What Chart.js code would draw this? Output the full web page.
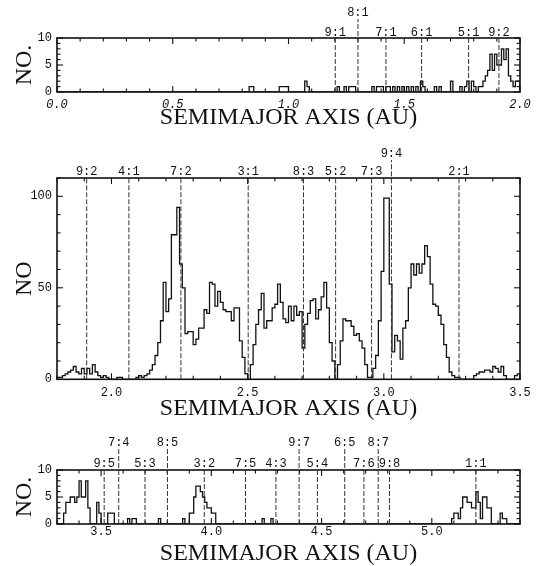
<!DOCTYPE html>
<html><head><meta charset="utf-8">
<script src="https://cdn.jsdelivr.net/npm/chart.js@4.4.1/dist/chart.umd.min.js"></script>
<style>
html,body{margin:0;padding:0;background:#fff;overflow:hidden;width:537px;height:566px;}
canvas{position:absolute;left:0;}
</style></head><body>
<canvas id="c1" width="537" height="135" style="top:0px"></canvas>
<canvas id="c2" width="537" height="292" style="top:135px"></canvas>
<canvas id="c3" width="537" height="150" style="top:427px"></canvas>
<script>
// ---------- DATA ----------
const binWidth = 0.01;
const axisTitle = 'SEMIMAJOR AXIS (AU)';

// top panel (0.0 - 2.0 AU), bins start at 0.80
const topStart = 0.80;
const topCounts = [
  0,0,0,1,1,0,0,0,0,0,
  0,0,0,0,0,0,1,1,1,1,
  0,0,0,0,0,0,0,2,1,0,
  0,0,0,0,0,0,0,0,0,0,
  0,1,0,0,1,0,1,1,1,0,
  0,0,0,0,0,0,1,0,1,1,
  1,0,1,1,0,1,0,1,0,1,
  0,1,0,1,0,1,0,2,1,0,
  0,0,0,1,0,1,0,0,0,0,
  2,0,0,0,1,0,1,2,0,2,
  1,0,1,1,2,3,4,7,4,7,
  5,5,8,6,8,3,2,1,2,2
];
const topXLabels = ['0.0','0.5','1.0','1.5','2.0'];
const topYLabels = ['0','5','10'];
const topResNames = ['9:1','8:1','7:1','6:1','5:1','9:2'];
const topResPos = [1.202,1.300,1.421,1.575,1.778,1.909];
const topResRaised = [0,1,0,0,0,0];

// middle panel (1.8 - 3.5 AU)
const midStart = 1.80;
const midCounts = [
  1,1,2,3,4,5,7,4,3,6,
  3,6,3,8,4,2,1,2,1,0,
  0,0,1,1,0,0,0,0,0,1,
  2,1,2,3,5,8,13,20,32,53,
  37,44,79,79,94,63,50,25,26,26,
  19,22,28,28,38,36,53,52,40,48,
  42,38,37,37,32,39,39,21,12,3,
  0,8,19,30,38,47,28,32,32,39,
  41,52,42,33,31,40,32,40,35,37,
  17,30,36,43,44,33,38,45,53,39,
  20,10,0,8,21,33,32,32,29,24,
  25,21,17,8,1,1,6,13,32,59,
  99,99,52,15,24,21,11,28,32,50,
  63,57,63,58,63,73,67,52,41,40,
  35,30,19,12,4,2,1,1,0,0,
  0,0,0,2,3,4,4,5,5,4,
  7,6,4,7,2,0,0,0,2,3
];
const midXLabels = ['2.0','2.5','3.0','3.5'];
const midYLabels = ['0','50','100'];
const midResNames = ['9:2','4:1','7:2','3:1','8:3','5:2','7:3','9:4','2:1'];
const midResPos = [1.909,2.064,2.255,2.502,2.705,2.823,2.955,3.028,3.276];
const midResRaised = [0,0,0,0,0,0,0,1,0];

// bottom panel (3.3 - 5.4 AU)
const lowStart = 3.30;
const lowCounts = [
  0,0,0,2,4,4,5,5,4,5,
  8,5,5,8,3,0,0,0,4,2,
  0,0,0,2,2,2,0,0,0,0,
  0,0,1,0,1,1,0,0,0,0,
  0,0,0,0,0,0,1,0,0,0,
  0,0,0,0,0,0,0,1,0,0,
  2,2,5,7,7,6,5,4,3,3,
  2,2,0,0,0,0,0,0,0,0,
  0,0,0,0,0,0,0,0,0,0,
  0,0,0,1,0,0,0,1,0,0,
  0,0,0,0,0,0,0,0,0,0,
  0,0,0,0,0,0,0,0,0,0,
  0,0,0,0,0,0,0,0,0,0,
  0,0,0,0,0,0,0,0,0,0,
  0,0,0,0,0,0,0,0,0,0,
  0,0,0,0,0,0,0,0,0,0,
  0,0,0,0,0,0,0,0,0,0,
  0,0,0,0,0,0,0,0,0,1,
  2,2,1,3,5,5,4,4,3,3,
  6,4,1,5,5,3,3,0,0,0,
  0,2,1,1,0,0,0,0,0,0
];
const lowXLabels = ['3.5','4.0','4.5','5.0'];
const lowYLabels = ['0','5','10'];
const lowResNames = ['9:5','7:4','5:3','8:5','3:2','7:5','4:3','9:7','5:4','6:5','7:6','8:7','9:8','1:1'];
const lowResPos = [3.514,3.580,3.699,3.801,3.968,4.155,4.293,4.398,4.481,4.605,4.692,4.757,4.808,5.200];
const lowResRaised = [0,1,0,1,0,0,0,1,0,1,0,1,0,0];

// ---------- RENDERING ----------
const INK = '#111';
const monoFont = 'Liberation Mono';
const serifFont = 'Liberation Serif';

function labelFor(labels){
  return v => { const l = labels.find(s => Math.abs(parseFloat(s) - v) < 1e-6); return l === undefined ? '' : l; };
}

function framePlugin(res){
  return {
    id: 'frameTicks',
    afterDatasetsDraw(chart){
      const {ctx, chartArea: a, scales: {x, y}} = chart;
      ctx.save();
      ctx.strokeStyle = INK;
      ctx.lineWidth = 1.1;
      const seg = (x1,y1,x2,y2) => { ctx.beginPath(); ctx.moveTo(x1,y1); ctx.lineTo(x2,y2); ctx.stroke(); };
      x.ticks.forEach(t => {
        const px = x.getPixelForValue(t.value);
        const len = t.label !== '' ? 6 : 3.5;
        seg(px, a.bottom, px, a.bottom - len);
        seg(px, a.top, px, a.top + len);
      });
      y.ticks.forEach(t => {
        const py = y.getPixelForValue(t.value);
        const len = t.label !== '' ? 6 : 3.5;
        seg(a.left, py, a.left + len, py);
        seg(a.right, py, a.right - len, py);
      });
      ctx.lineWidth = 1.6;
      ctx.strokeRect(a.left, a.top, a.right - a.left, a.bottom - a.top);
      // resonance lines
      ctx.strokeStyle = '#333';
      ctx.lineWidth = 1;
      ctx.setLineDash([5, 2]);
      res.names.forEach((n, i) => {
        const px = x.getPixelForValue(res.pos[i]);
        const top = res.raised[i] ? a.top - res.raisedOff + 6 : a.top;
        seg(px, a.bottom, px, top);
      });
      ctx.setLineDash([]);
      ctx.fillStyle = INK;
      ctx.font = '12px "' + monoFont + '"';
      ctx.textAlign = 'center';
      ctx.textBaseline = 'middle';
      res.names.forEach((n, i) => {
        const px = x.getPixelForValue(res.pos[i]);
        const py = res.raised[i] ? a.top - res.raisedOff : a.top - res.labelOff;
        ctx.fillText(n, px, py);
      });
      ctx.restore();
    }
  };
}

function makePanel(id, cfg){
  const pts = cfg.counts.map((c, i) => ({x: cfg.start + i * binWidth, y: c}));
  pts.push({x: cfg.start + cfg.counts.length * binWidth, y: 0});
  if (cfg.start > cfg.xMin) pts.unshift({x: cfg.xMin, y: 0});
  new Chart(document.getElementById(id), {
    type: 'line',
    data: {datasets: [{data: pts, stepped: true, borderColor: INK, borderWidth: 1.3,
      pointRadius: 0, fill: false, tension: 0}]},
    options: {
      responsive: false, animation: false, devicePixelRatio: 1,
      parsing: false,
      layout: {padding: {top: cfg.padTop, right: 17, left: 0, bottom: 0}},
      plugins: {legend: {display: false}, tooltip: {enabled: false}},
      scales: {
        x: {
          type: 'linear', min: cfg.xMin, max: cfg.xMax,
          afterFit: s => { s.height = cfg.xAxisH; },
          grid: {display: false, drawTicks: false}, border: {display: false},
          ticks: {stepSize: 0.1, autoSkip: false, maxRotation: 0, padding: cfg.tickPad,
            color: INK, font: {family: monoFont, size: 12, style: cfg.xItalic ? 'italic' : 'normal'},
            callback: labelFor(cfg.xLabels)},
          title: {display: true, text: axisTitle, color: INK,
            font: {family: serifFont, size: 24}, padding: {top: 0, bottom: cfg.titlePad}}
        },
        y: {
          type: 'linear', min: 0, max: cfg.yMax,
          afterFit: s => { s.width = 57; },
          grid: {display: false, drawTicks: false}, border: {display: false},
          ticks: {stepSize: cfg.yStep, autoSkip: false, padding: 5, color: INK,
            font: {family: monoFont, size: 12}, callback: labelFor(cfg.yLabels)},
          title: {display: true, text: cfg.yTitle, color: INK,
            font: {family: serifFont, size: 24}, padding: {top: 10, bottom: 0}}
        }
      }
    },
    plugins: [framePlugin(cfg.res)]
  });
}

makePanel('c1', {
  start: topStart, counts: topCounts, xMin: 0, xMax: 2.0, yMax: 10, yStep: 1,
  xLabels: topXLabels, yLabels: topYLabels, yTitle: 'NO.', xItalic: true,
  padTop: 38, xAxisH: 43, tickPad: 6, titlePad: 2.6,
  res: {names: topResNames, pos: topResPos, raised: topResRaised, labelOff: 5, raisedOff: 25}
});
makePanel('c2', {
  start: midStart, counts: midCounts, xMin: 1.8, xMax: 3.5, yMax: 110, yStep: 10,
  xLabels: midXLabels, yLabels: midYLabels, yTitle: 'NO', xItalic: false,
  padTop: 43, xAxisH: 47.7, tickPad: 6, titlePad: 4,
  res: {names: midResNames, pos: midResPos, raised: midResRaised, labelOff: 6, raisedOff: 24}
});
makePanel('c3', {
  start: lowStart, counts: lowCounts, xMin: 3.3, xMax: 5.4, yMax: 10, yStep: 1,
  xLabels: lowXLabels, yLabels: lowYLabels, yTitle: 'NO.', xItalic: false,
  padTop: 43, xAxisH: 53, tickPad: 1, titlePad: 8.6,
  res: {names: lowResNames, pos: lowResPos, raised: lowResRaised, labelOff: 6.5, raisedOff: 27.5}
});
</script>
</body></html>
